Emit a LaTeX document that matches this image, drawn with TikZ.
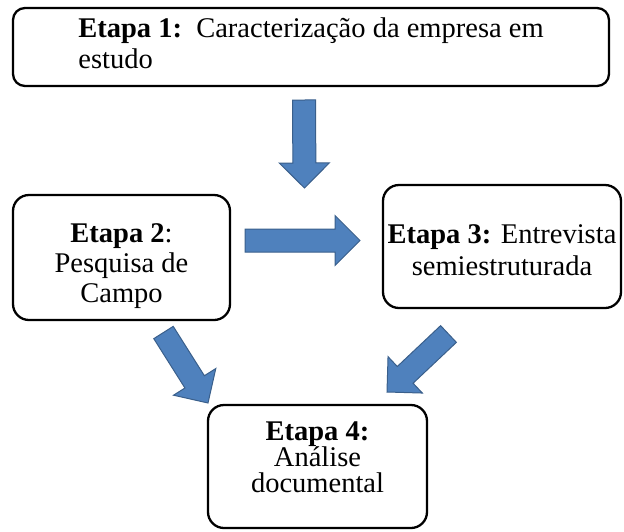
\documentclass[tikz,border=0pt]{standalone}
\usepackage{fontspec}
\setmainfont{LiberationSerif}[Extension=.ttf, UprightFont=*-Regular, BoldFont=*-Bold,
  ItalicFont=*-Italic, BoldItalicFont=*-BoldItalic]
\usetikzlibrary{calc}
\definecolor{arrowblue}{HTML}{4F81BD}
\definecolor{arrowedge}{HTML}{3A5F8B}

% block arrow from #1 to #2 (shaft, head)
\newcommand{\blockarrow}[2]{%
  \path (#1) coordinate (s) (#2) coordinate (t) ($(t)!25pt!(s)$) coordinate (h);
  \filldraw[fatarrow] ($(s)!11.5pt!90:(t)$) -- ($(h)!11.5pt!-90:(s)$) -- ($(h)!25pt!-90:(s)$)
    -- (t) -- ($(h)!25pt!90:(s)$) -- ($(h)!11.5pt!90:(s)$) -- ($(s)!11.5pt!-90:(t)$) -- cycle;}

\begin{document}
\begin{tikzpicture}[x=1pt,y=-1pt,
  stage/.style={draw, line width=2.3pt, rounded corners=16pt, align=center,
    font=\fontsize{28.5}{30}\selectfont, inner sep=0pt, text depth=0pt},
  fatarrow/.style={fill=arrowblue, draw=arrowedge, line width=1pt, line join=miter}]
\useasboundingbox (0,0) rectangle (624,531);

% define the stages
  \node[stage, align=left, rounded corners=12pt, minimum width=596pt, minimum height=78pt,
    font=\fontsize{28.5}{31}\selectfont, text height=42pt]
    (etapa1) at (311,47) {\textbf{Etapa 1:}\ \ Caracterização da empresa em\\estudo};
  \node[stage, minimum width=217pt, minimum height=125pt, text height=89pt]
    (etapa2) at (121.5,257.5) {\textbf{Etapa 2}:\\Pesquisa de\\Campo};
  \node[stage, minimum width=238pt, minimum height=123pt,
    font=\fontsize{28.5}{32}\selectfont, text height=57pt]
    (etapa3) at (502,246.5) {\textbf{Etapa 3:} Entrevista\\semiestruturada};
  \node[stage, minimum width=219pt, minimum height=123pt,
    font=\fontsize{28.5}{26}\selectfont, text height=51pt]
    (etapa4) at (317.5,466.5) {\textbf{Etapa 4:}\\Análise\\documental};

% arrow ends
  \coordinate (down1) at (304,100);    \coordinate (down2) at (304.5,188);
  \coordinate (right1) at (245,240.5); \coordinate (right2) at (360,240.5);
  \coordinate (left1) at (163.5,332.5); \coordinate (left2) at (208,403);
  \coordinate (back1) at (448.5,334);  \coordinate (back2) at (387,392);

% define the links
  \blockarrow{down1}{down2}
  \blockarrow{right1}{right2}
  \blockarrow{left1}{left2}
  \blockarrow{back1}{back2}
\end{tikzpicture}
\end{document}
